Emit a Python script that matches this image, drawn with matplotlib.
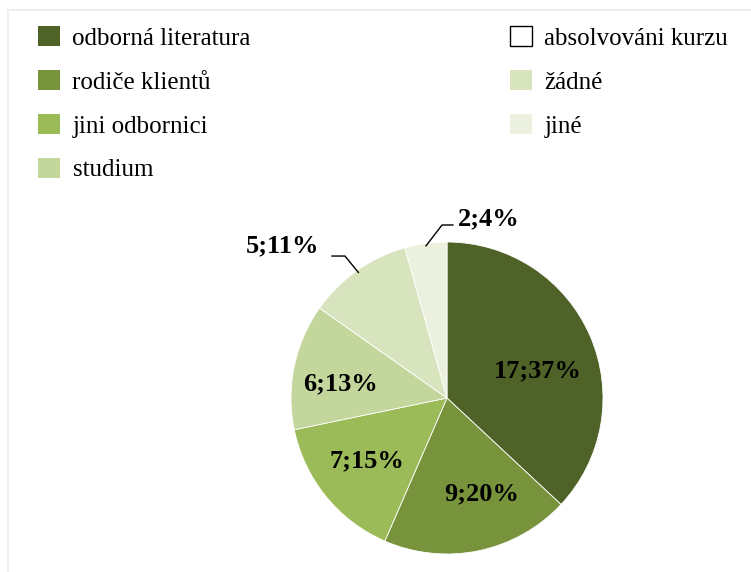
import numpy as np
import matplotlib.pyplot as plt
from matplotlib.patches import Patch
from matplotlib.lines import Line2D

# zdroje informaci - pocty odpovedi
CATEGORIES = ["odborná literatura", "rodiče klientů", "jini odbornici", "studium",
              "absolvováni kurzu", "žádné", "jiné"]
COUNTS = [17, 9, 7, 6, 0, 5, 2]
PERCENT_LABELS = ["37%", "20%", "15%", "13%", "", "11%", "4%"]
COLORS = ["#4F6228", "#77933C", "#9BBB59", "#C3D69B", "#FFFFFF", "#D7E4BD", "#EBF1DE"]

# label placement per slice: (radius, angle shift in deg), None = no label
LABEL_POS = [(0.61, -7), (0.65, 8), (0.65, -1), (0.69, 4), None, (1.44, 12), (1.18, -21)]
# leader lines for outside labels: elbow point and line end (axes data units)
LEADERS = {5: [(-0.654, 0.91), (-0.737, 0.91)],
           6: [(-0.032, 1.109), (0.038, 1.109)]}

FONT = "Liberation Serif"

fig = plt.figure(figsize=(7.51, 5.72), dpi=100)

# light frame of the chart area
fig.add_artist(Line2D([8 / 751, 1], [1 - 10 / 572, 1 - 10 / 572], color="#F0F0EA", lw=1.5))
fig.add_artist(Line2D([8 / 751, 8 / 751], [0, 1 - 10 / 572], color="#F0F0EA", lw=1.5))

cx, cy, r = 447, 398, 156
ax = fig.add_axes([(cx - r) / 751, (572 - cy - r) / 572, 2 * r / 751, 2 * r / 572])

wedges, _ = ax.pie(COUNTS, colors=COLORS, startangle=90, counterclock=False,
                   radius=1, wedgeprops=dict(edgecolor="white", linewidth=0.6))
ax.set_xlim(-1, 1)
ax.set_ylim(-1, 1)
ax.set_aspect("equal")
ax.axis("off")

total = sum(COUNTS)
start = 90.0
for i, val in enumerate(COUNTS):
    span = 360.0 * val / total
    mid = start - span / 2
    start -= span
    if LABEL_POS[i] is None or val == 0:
        continue
    rr, shift = LABEL_POS[i]
    a = np.deg2rad(mid + shift)
    ax.text(rr * np.cos(a), rr * np.sin(a), "%d;%s" % (val, PERCENT_LABELS[i]),
            ha="center", va="center", fontsize=19, fontweight="bold",
            family=FONT, color="black")
    if i in LEADERS:
        am = np.deg2rad(mid)
        pts = [(0.985 * np.cos(am), 0.985 * np.sin(am))] + LEADERS[i]
        xs, ys = zip(*pts)
        ax.plot(xs, ys, color="black", lw=1, clip_on=False)

handles = []
for c in COLORS:
    if c == "#FFFFFF":
        handles.append(Patch(facecolor="white", edgecolor="black", linewidth=1))
    else:
        handles.append(Patch(facecolor=c, edgecolor="none"))

leg_kw = dict(loc="upper left", frameon=False, prop=dict(family=FONT, size=18),
              handlelength=0.88, handleheight=0.88, handletextpad=0.5,
              labelspacing=0.80, borderaxespad=0, borderpad=0)
fig.legend(handles[:4], CATEGORIES[:4], bbox_to_anchor=(38 / 751, 1 - 26 / 572), **leg_kw)
fig.legend(handles[4:], CATEGORIES[4:], bbox_to_anchor=(510 / 751, 1 - 26 / 572), **leg_kw)

fig.savefig("out.png", dpi=100)
